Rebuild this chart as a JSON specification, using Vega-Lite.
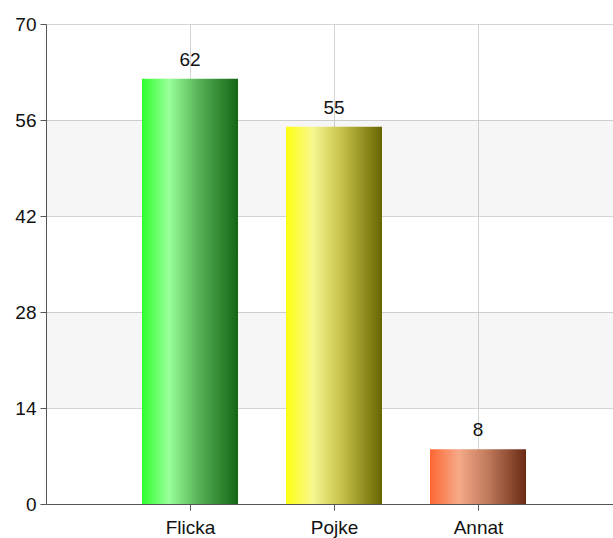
{
  "$schema": "https://vega.github.io/schema/vega-lite/v6.json",
  "width": 567,
  "height": 480,
  "autosize": {"type": "none"},
  "padding": {"left": 46, "top": 24, "right": 0, "bottom": 34},
  "config": {
    "view": {"stroke": null},
    "font": "Liberation Sans",
    "axis": {
      "labelFont": "Liberation Sans",
      "labelFontSize": 19,
      "labelColor": "#111111",
      "domainColor": "#555555",
      "tickColor": "#555555",
      "gridColor": "#d4d4d4",
      "tickSize": 6,
      "title": null
    }
  },
  "datasets": {
    "bands": [{"lo": 14, "hi": 28}, {"lo": 42, "hi": 56}],
    "bars": [
      {"kategori": "Flicka", "antal": 62},
      {"kategori": "Pojke", "antal": 55},
      {"kategori": "Annat", "antal": 8}
    ]
  },
  "layer": [
    {
      "data": {"name": "bands"},
      "mark": {"type": "rect", "color": "#000000", "opacity": 0.037},
      "encoding": {
        "y": {
          "field": "lo",
          "type": "quantitative",
          "scale": {"domain": [0, 70], "nice": false},
          "axis": {"values": [0, 14, 28, 42, 56, 70], "grid": true, "labelPadding": 4}
        },
        "y2": {"field": "hi"}
      }
    },
    {
      "data": {"name": "bars"},
      "transform": [{"filter": "datum.kategori === 'Flicka'"}],
      "mark": {
        "type": "bar",
        "width": 96,
        "color": {
          "gradient": "linear", "x1": 0, "y1": 0, "x2": 1, "y2": 0,
          "stops": [
            {"offset": 0, "color": "#2eff2e"},
            {"offset": 0.28, "color": "#99ff99"},
            {"offset": 0.6, "color": "#55b055"},
            {"offset": 1, "color": "#146614"}
          ]
        }
      },
      "encoding": {
        "x": {
          "field": "kategori", "type": "nominal",
          "scale": {"type": "point", "domain": ["Flicka", "Pojke", "Annat"], "range": [0, 576], "padding": 1},
          "axis": {"labelAngle": 0, "grid": true, "labelPadding": 8}
        },
        "y": {"field": "antal", "type": "quantitative"}
      }
    },
    {
      "data": {"name": "bars"},
      "transform": [{"filter": "datum.kategori === 'Pojke'"}],
      "mark": {
        "type": "bar",
        "width": 96,
        "color": {
          "gradient": "linear", "x1": 0, "y1": 0, "x2": 1, "y2": 0,
          "stops": [
            {"offset": 0, "color": "#ffff10"},
            {"offset": 0.28, "color": "#f7f790"},
            {"offset": 0.6, "color": "#c2bd45"},
            {"offset": 1, "color": "#676500"}
          ]
        }
      },
      "encoding": {
        "x": {"field": "kategori", "type": "nominal"},
        "y": {"field": "antal", "type": "quantitative"}
      }
    },
    {
      "data": {"name": "bars"},
      "transform": [{"filter": "datum.kategori === 'Annat'"}],
      "mark": {
        "type": "bar",
        "width": 96,
        "color": {
          "gradient": "linear", "x1": 0, "y1": 0, "x2": 1, "y2": 0,
          "stops": [
            {"offset": 0, "color": "#ff6633"},
            {"offset": 0.3, "color": "#f5aa88"},
            {"offset": 0.6, "color": "#c07a5c"},
            {"offset": 1, "color": "#6a2a14"}
          ]
        }
      },
      "encoding": {
        "x": {"field": "kategori", "type": "nominal"},
        "y": {"field": "antal", "type": "quantitative"}
      }
    },
    {
      "data": {"name": "bars"},
      "mark": {"type": "text", "baseline": "bottom", "dy": -9, "fontSize": 19, "color": "#111111", "font": "Liberation Sans"},
      "encoding": {
        "x": {"field": "kategori", "type": "nominal"},
        "y": {"field": "antal", "type": "quantitative"},
        "text": {"field": "antal", "type": "quantitative"}
      }
    }
  ]
}
